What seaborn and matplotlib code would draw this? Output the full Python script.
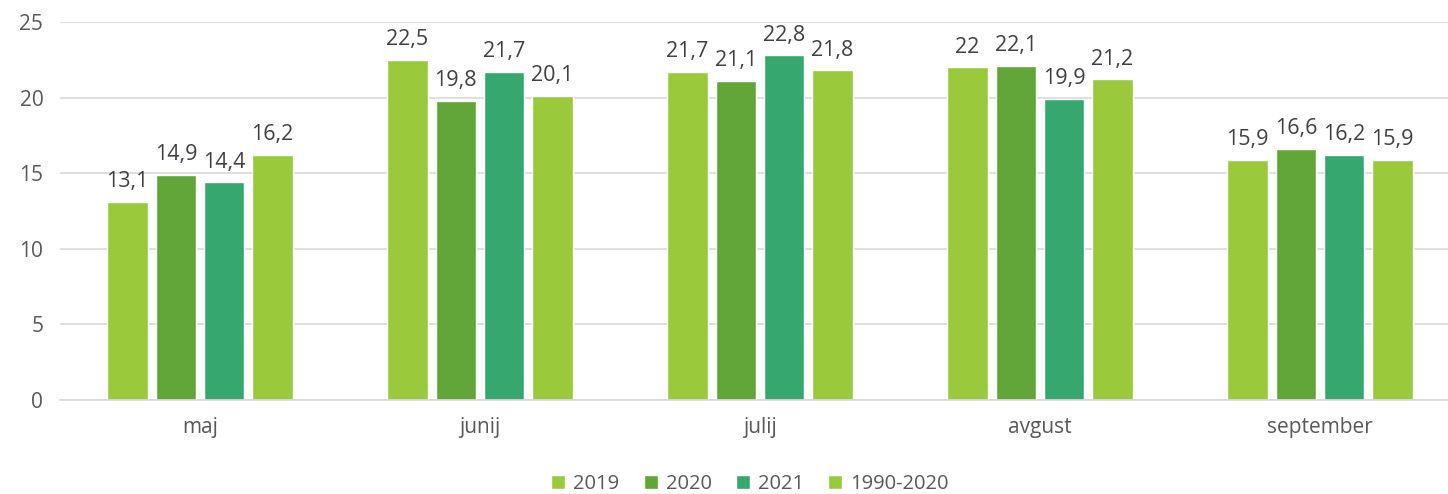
import pandas as pd
import matplotlib.pyplot as plt
import seaborn as sns
from matplotlib.patches import Patch

months = ["maj", "junij", "julij", "avgust", "september"]
series = ["2019", "2020", "2021", "1990-2020"]
v2019 = [13.1, 22.5, 21.7, 22.0, 15.9]
v2020 = [14.9, 19.8, 21.1, 22.1, 16.6]
v2021 = [14.4, 21.7, 22.8, 19.9, 16.2]
vnorm = [16.2, 20.1, 21.8, 21.2, 15.9]
colors = {"2019": "#9ACA3C", "2020": "#62A539", "2021": "#36A76F", "1990-2020": "#9ACA3C"}

df = pd.DataFrame({
    "mesec": months * 4,
    "serija": [s for s in series for _ in months],
    "vrednost": v2019 + v2020 + v2021 + vnorm,
})

sns.set_theme(style="white")
plt.rcParams["font.family"] = ["Open Sans", "DejaVu Sans"]
txt = "#595959"

fig = plt.figure(figsize=(14.48, 4.94), dpi=100)
ax = fig.add_axes([60 / 1448, 1 - 400 / 494, 1400 / 1448, 378 / 494])

sns.barplot(data=df, x="mesec", y="vrednost", hue="serija", order=months,
            hue_order=series, palette=colors, width=0.69, gap=0.16,
            saturation=1, legend=False, ax=ax)

# oznake vrednosti z decimalno vejico
for cont in ax.containers:
    labels = [f"{b.get_height():g}".replace(".", ",") for b in cont]
    ax.bar_label(cont, labels=labels, padding=7, fontsize=15.5, color="#404040")

ax.set_ylim(0, 25)
ax.set_yticks(range(0, 26, 5))
ax.set_xlim(-0.5, 4.5)
ax.yaxis.grid(True, color="#D9D9D9", linewidth=1.2)
ax.set_axisbelow(True)
for s in ["top", "right", "left"]:
    ax.spines[s].set_visible(False)
ax.spines["bottom"].set_color("#D9D9D9")
ax.spines["bottom"].set_linewidth(1.2)
ax.tick_params(axis="both", length=0, labelsize=15, colors=txt)
ax.tick_params(axis="x", pad=12)
ax.tick_params(axis="y", pad=12)
ax.set_xlabel("")
ax.set_ylabel("")

handles = [Patch(facecolor=colors[s], label=s) for s in series]
fig.legend(handles=handles, loc="center", bbox_to_anchor=(0.518, 1 - 484 / 494),
           ncol=4, frameon=False, fontsize=14.5, labelcolor=txt,
           handlelength=0.7, handleheight=0.7, handletextpad=0.4, columnspacing=1.2)

fig.savefig("out.png", dpi=100)
